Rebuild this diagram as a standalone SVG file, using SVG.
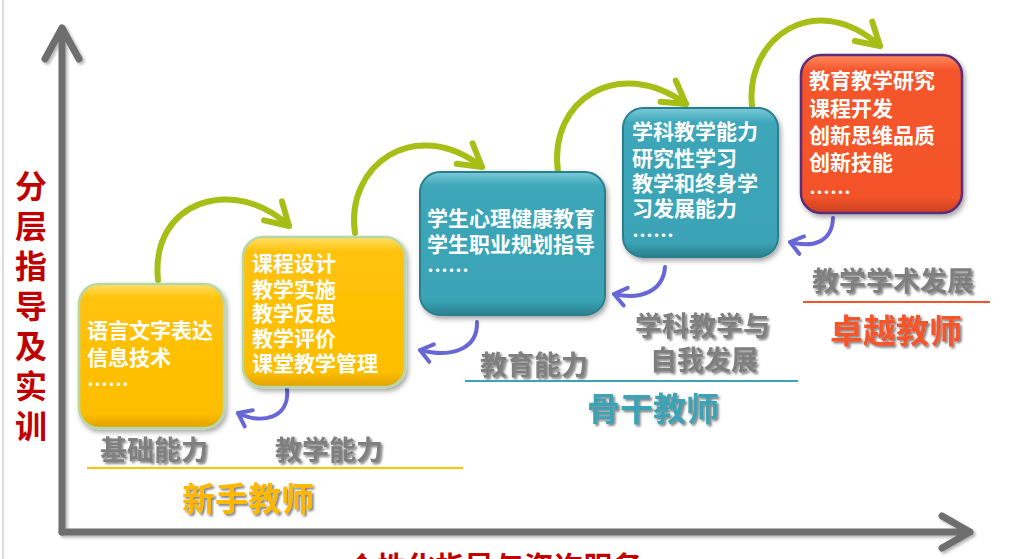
<svg xmlns="http://www.w3.org/2000/svg" width="1014" height="559" viewBox="0 0 1014 559">
<defs>
<style>
.t{font-family:"Noto Sans CJK SC","Noto Sans",sans-serif;font-weight:700}
.bt{fill:#fff;font-size:21px}
.lab{fill:#7f7f7f;font-size:27px;filter:url(#ts)}
.axis{fill:none;stroke:#6e6e6e;stroke-width:7;stroke-linecap:round;stroke-linejoin:round}
.g{fill:none;stroke:#A5BF16;stroke-width:6;stroke-linecap:round;marker-end:url(#ga)}
.b{fill:none;stroke:#6767D6;stroke-width:4;stroke-linecap:round;marker-end:url(#ba)}
</style>
<linearGradient id="gy" x1="0" y1="0" x2="0" y2="1"><stop offset="0" stop-color="#FFE066"/><stop offset="0.1" stop-color="#FFC20A"/><stop offset="0.9" stop-color="#FDBE00"/><stop offset="1" stop-color="#E0A000"/></linearGradient>
<linearGradient id="gt" x1="0" y1="0" x2="0" y2="1"><stop offset="0" stop-color="#7CCBDB"/><stop offset="0.1" stop-color="#3CA6B8"/><stop offset="0.9" stop-color="#3AA3B5"/><stop offset="1" stop-color="#2A8090"/></linearGradient>
<linearGradient id="go" x1="0" y1="0" x2="0" y2="1"><stop offset="0" stop-color="#FF8A60"/><stop offset="0.1" stop-color="#F5552A"/><stop offset="0.9" stop-color="#F4532A"/><stop offset="1" stop-color="#C84020"/></linearGradient>
<filter id="ds" x="-20%" y="-20%" width="140%" height="140%"><feDropShadow dx="2" dy="3" stdDeviation="2.5" flood-color="#000" flood-opacity="0.35"/></filter>
<filter id="ts" x="-10%" y="-20%" width="120%" height="150%"><feDropShadow dx="2" dy="2" stdDeviation="1.2" flood-color="#333" flood-opacity="0.6"/></filter>
<filter id="as" x="-10%" y="-10%" width="120%" height="120%"><feDropShadow dx="2" dy="2" stdDeviation="1.5" flood-color="#000" flood-opacity="0.3"/></filter>
<marker id="ga" markerUnits="userSpaceOnUse" markerWidth="60" markerHeight="60" viewBox="-30 -30 60 60" refX="0" refY="0" orient="auto" overflow="visible">
<path d="M-22,-13 L0,0 L-22,13" fill="none" stroke="#A5BF16" stroke-width="6" stroke-linecap="round" stroke-linejoin="round"/>
</marker>
<marker id="ba" markerUnits="userSpaceOnUse" markerWidth="40" markerHeight="40" viewBox="-20 -20 40 40" refX="0" refY="0" orient="auto" overflow="visible">
<path d="M-12,-9 L0,0 L-12,9" fill="none" stroke="#6767D6" stroke-width="4" stroke-linecap="round" stroke-linejoin="round"/>
</marker>
</defs>
<rect width="1014" height="559" fill="#fff"/>
<line x1="3" y1="0" x2="3" y2="559" stroke="#d0d0d0" stroke-width="1.5"/>

<g id="axes" filter="url(#as)">
<path class="axis" d="M62,532 L62,28 M45,59 L62,28 L79,59"/>
<path class="axis" d="M62,532 L970,532 M942,516 L970,532 L942,548"/>
</g>

<g id="y-label" class="t" fill="#C00000" font-size="32" text-anchor="middle">
<text x="31" y="198">分</text>
<text x="31" y="238">层</text>
<text x="31" y="278">指</text>
<text x="31" y="318">导</text>
<text x="31" y="358">及</text>
<text x="31" y="398">实</text>
<text x="31" y="438">训</text>
</g>

<g id="x-label" class="t" fill="#C00000" font-size="29.5"><text x="347" y="578">个性化指导与咨询服务</text></g>

<g id="connectors">
<path class="g" d="M158,280 C150,200 235,175 289,226"/>
<path class="g" d="M355,233 C345,165 415,115 482,167"/>
<path class="g" d="M558,172 C548,100 618,55 686,104"/>
<path class="g" d="M752,106 C745,38 815,-12 880,46"/>
<path class="b" d="M287,389 C290,418 262,425 238,413"/>
<path class="b" d="M477,322 C478,350 450,358 420,350"/>
<path class="b" d="M665,267 C663,292 640,300 614,294"/>
<path class="b" d="M833,218 C832,243 812,248 790,242"/>
</g>

<g id="node-basic">
<rect x="79" y="284" width="145" height="144" rx="20" fill="url(#gy)" stroke="#B7D7A8" stroke-width="2.5" filter="url(#ds)"/>
<text class="t bt" x="87" y="338">语言文字表达</text>
<text class="t bt" x="87" y="365">信息技术</text>
<text class="t bt" x="87" y="392">……</text>
</g>

<g id="node-teaching">
<rect x="243" y="237" width="162" height="150" rx="20" fill="url(#gy)" stroke="#B7D7A8" stroke-width="2.5" filter="url(#ds)"/>
<text class="t bt" x="252" y="271">课程设计</text>
<text class="t bt" x="252" y="297">教学实施</text>
<text class="t bt" x="252" y="321">教学反思</text>
<text class="t bt" x="252" y="346">教学评价</text>
<text class="t bt" x="252" y="371">课堂教学管理</text>
</g>

<g id="node-education">
<rect x="420" y="172" width="185" height="143" rx="20" fill="url(#gt)" stroke="#2B7F8C" stroke-width="2" filter="url(#ds)"/>
<text class="t bt" x="427" y="226">学生心理健康教育</text>
<text class="t bt" x="427" y="252">学生职业规划指导</text>
<text class="t bt" x="427" y="278">……</text>
</g>

<g id="node-subject">
<rect x="623" y="108" width="155" height="149" rx="20" fill="url(#gt)" stroke="#2B7F8C" stroke-width="2" filter="url(#ds)"/>
<text class="t bt" x="632" y="139">学科教学能力</text>
<text class="t bt" x="632" y="166">研究性学习</text>
<text class="t bt" x="632" y="191">教学和终身学</text>
<text class="t bt" x="632" y="216">习发展能力</text>
<text class="t bt" x="632" y="243">……</text>
</g>

<g id="node-research">
<rect x="801" y="55" width="161" height="158" rx="20" fill="url(#go)" stroke="#5A2D7A" stroke-width="2.5" filter="url(#ds)"/>
<text class="t bt" x="809" y="88" font-size="22.5">教育教学研究</text>
<text class="t bt" x="809" y="116" font-size="22.5">课程开发</text>
<text class="t bt" x="809" y="143" font-size="22.5">创新思维品质</text>
<text class="t bt" x="809" y="170" font-size="22.5">创新技能</text>
<text class="t bt" x="809" y="200" font-size="22.5">……</text>
</g>

<g id="stage-novice">
<text class="t lab" x="100" y="460">基础能力</text>
<text class="t lab" x="275" y="460">教学能力</text>
<line x1="87" y1="468" x2="463" y2="468" stroke="#FFC000" stroke-width="2"/>
<text class="t" x="182" y="511" font-size="33" fill="#FFB800" filter="url(#ts)">新手教师</text>
</g>

<g id="stage-backbone">
<text class="t lab" x="480" y="375">教育能力</text>
<text class="t lab" x="635" y="336">学科教学与</text>
<text class="t lab" x="650" y="370">自我发展</text>
<line x1="465" y1="381" x2="798" y2="381" stroke="#3BA3B5" stroke-width="2"/>
<text class="t" x="587" y="421" font-size="33" fill="#3BA3B5" filter="url(#ts)">骨干教师</text>
</g>

<g id="stage-excellent">
<text class="t lab" x="812" y="291" font-size="28">教学学术发展</text>
<line x1="803" y1="302" x2="990" y2="302" stroke="#F5542A" stroke-width="2"/>
<text class="t" x="830" y="343" font-size="33" fill="#F5542A" filter="url(#ts)">卓越教师</text>
</g>
</svg>
